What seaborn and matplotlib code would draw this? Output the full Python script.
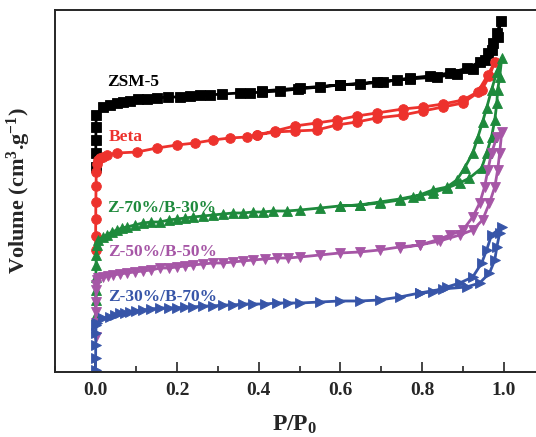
import numpy as np
import pandas as pd
import matplotlib
matplotlib.use("Agg")
import matplotlib.pyplot as plt
import seaborn as sns
from matplotlib.ticker import MultipleLocator, FormatStrFormatter

# N2 isotherms: relative pressure P/P0 and volume (arbitrary units, no y scale shown)
zsm5_ads_p = [0.0005, 0.0008, 0.001, 0.0012, 0.002, 0.018, 0.035, 0.053, 0.067, 0.084,
              0.104, 0.126, 0.151, 0.177, 0.207, 0.231, 0.256, 0.28, 0.31, 0.354,
              0.379, 0.408, 0.452, 0.496, 0.55, 0.598, 0.647, 0.704, 0.738, 0.77,
              0.819, 0.868, 0.911, 0.941, 0.961, 0.973, 0.983, 0.993]
zsm5_ads_v = [205, 219, 232, 245, 257, 265, 267, 269, 270, 271,
              273, 273, 274, 275, 275, 276, 277, 277, 278, 279,
              279, 280, 281, 283, 285, 287, 288, 290, 292, 294,
              296, 299, 304, 310, 319, 329, 339, 351]
zsm5_des_p = [0.985, 0.97, 0.953, 0.924, 0.885, 0.836, 0.77, 0.689, 0.598, 0.501, 0.408]
zsm5_des_v = [335, 322, 312, 303, 298, 295, 293, 290, 287, 284, 281]

beta_ads_p = [0.0003, 0.0005, 0.0007, 0.001, 0.0015, 0.002, 0.003, 0.006, 0.011, 0.018,
              0.028, 0.053, 0.102, 0.151, 0.2, 0.244, 0.288, 0.329, 0.371, 0.395,
              0.439, 0.488, 0.542, 0.591, 0.64, 0.689, 0.753, 0.802, 0.851, 0.9,
              0.946, 0.965, 0.978]
beta_ads_v = [122, 136, 153, 170, 186, 200, 208, 212, 214, 215,
              217, 219, 220, 224, 227, 229, 232, 234, 235, 237,
              240, 241, 242, 247, 250, 254, 257, 261, 265, 269,
              282, 296, 310]
beta_des_p = [0.961, 0.936, 0.9, 0.851, 0.802, 0.753, 0.689, 0.64, 0.591, 0.542, 0.488, 0.439, 0.395]
beta_des_v = [297, 280, 272, 268, 265, 263, 259, 256, 252, 249, 246, 241, 237]

z70_ads_p = [0.0003, 0.0005, 0.0007, 0.001, 0.0015, 0.002, 0.003, 0.006, 0.018, 0.028,
             0.04, 0.053, 0.065, 0.077, 0.096, 0.116, 0.137, 0.158, 0.179, 0.2,
             0.22, 0.239, 0.263, 0.288, 0.312, 0.337, 0.361, 0.386, 0.41, 0.435,
             0.468, 0.501, 0.55, 0.598, 0.647, 0.696, 0.745, 0.777, 0.826, 0.861,
             0.892, 0.916, 0.946, 0.958, 0.97, 0.978, 0.983, 0.985, 0.99, 0.995]
z70_ads_v = [57, 72, 82, 95, 107, 117, 127, 132, 135, 137,
             140, 142, 144, 145, 147, 149, 150, 150, 152, 153,
             154, 155, 156, 157, 158, 159, 159, 160, 160, 161,
             161, 162, 164, 166, 167, 169, 172, 175, 179, 184,
             189, 194, 204, 219, 235, 252, 269, 282, 295, 314]
z70_des_p = [0.983, 0.97, 0.958, 0.948, 0.936, 0.924, 0.904, 0.885, 0.861, 0.826,
             0.794, 0.745, 0.696, 0.647, 0.598]
z70_des_v = [300, 282, 264, 250, 234, 219, 204, 192, 185, 182,
             177, 173, 170, 167, 166]

z50_ads_p = [0.0003, 0.0005, 0.0007, 0.001, 0.0015, 0.002, 0.004, 0.006, 0.018, 0.03,
             0.043, 0.06, 0.077, 0.096, 0.116, 0.137, 0.158, 0.179, 0.2, 0.22,
             0.239, 0.263, 0.288, 0.312, 0.337, 0.361, 0.386, 0.415, 0.444, 0.472,
             0.501, 0.55, 0.598, 0.647, 0.696, 0.745, 0.794, 0.843, 0.892, 0.924,
             0.948, 0.965, 0.978, 0.985, 0.99, 0.995]
z50_ads_v = [35, 49, 60, 70, 82, 87, 92, 94, 95, 96,
             97, 98, 99, 100, 101, 102, 104, 104, 105, 106,
             107, 108, 109, 109, 110, 111, 112, 113, 114, 114,
             115, 117, 119, 120, 122, 125, 127, 131, 137, 142,
             152, 169, 185, 202, 219, 240]
z50_des_p = [0.983, 0.97, 0.961, 0.953, 0.941, 0.924, 0.9, 0.868, 0.836, 0.794, 0.745]
z50_des_v = [235, 219, 202, 185, 169, 155, 142, 137, 132, 127, 124]

z30_ads_p = [0.0003, 0.0005, 0.0007, 0.001, 0.0015, 0.004, 0.018, 0.035, 0.048, 0.06,
             0.072, 0.084, 0.1, 0.116, 0.137, 0.158, 0.179, 0.2, 0.22, 0.239,
             0.263, 0.288, 0.312, 0.337, 0.361, 0.386, 0.415, 0.444, 0.472, 0.501,
             0.55, 0.598, 0.647, 0.696, 0.745, 0.794, 0.85, 0.909, 0.941, 0.965,
             0.978, 0.983, 0.99, 0.995]
z30_ads_v = [2, 14, 27, 39, 47, 49, 54, 55, 57, 59,
             59, 60, 61, 62, 63, 64, 64, 64, 65, 65,
             66, 66, 67, 67, 68, 68, 68, 69, 69, 69,
             70, 71, 71, 72, 75, 79, 83, 85, 89, 99,
             112, 125, 139, 145]
z30_des_p = [0.97, 0.958, 0.946, 0.924, 0.892, 0.861, 0.826, 0.794]
z30_des_v = [137, 122, 109, 95, 89, 85, 80, 79]

samples = ["ZSM-5", "Beta", "Z-70%/B-30%", "Z-50%/B-50%", "Z-30%/B-70%"]
colors = ["#000000", "#ED322D", "#1E8A3C", "#A656A6", "#3755A8"]
markers = ["s", "o", "^", "v", ">"]
label_pos = [(0.028, 290), (0.033, 235), (0.028, 164), (0.031, 120), (0.031, 75)]

curves = [
    (zsm5_ads_p + zsm5_des_p, zsm5_ads_v + zsm5_des_v),
    (beta_ads_p + beta_des_p, beta_ads_v + beta_des_v),
    (z70_ads_p + z70_des_p, z70_ads_v + z70_des_v),
    (z50_ads_p + z50_des_p, z50_ads_v + z50_des_v),
    (z30_ads_p + z30_des_p, z30_ads_v + z30_des_v),
]

sns.set_style("ticks")
plt.rcParams["font.family"] = ["Liberation Serif", "DejaVu Serif"]
plt.rcParams["font.weight"] = "bold"
plt.rcParams["axes.labelweight"] = "bold"
plt.rcParams["mathtext.fontset"] = "custom"
plt.rcParams["mathtext.rm"] = "Liberation Serif:bold"
plt.rcParams["mathtext.it"] = "Liberation Serif:bold"
plt.rcParams["mathtext.bf"] = "Liberation Serif:bold"
plt.rcParams["mathtext.default"] = "rm"

fig = plt.figure(figsize=(5.36, 4.37), dpi=100)
ax = fig.add_axes([54.6 / 536, 65 / 437, 490 / 536, 362 / 437])

for (p, v), name, col, mk in zip(curves, samples, colors, markers):
    df = pd.DataFrame({"P": p, "V": v})
    sns.lineplot(data=df, x="P", y="V", sort=False, estimator=None,
                 color=col, marker=mk, markersize=7, markeredgecolor=col,
                 markeredgewidth=0.6, linewidth=2.0, ax=ax)

for name, col, (tx, ty) in zip(samples, colors, label_pos):
    ax.text(tx, ty, name, color=col, fontsize=12.5, fontweight="bold",
            ha="left", va="center")

ax.set_xlim(-0.1, 1.1)
ax.set_ylim(0, 362)
ax.xaxis.set_major_locator(MultipleLocator(0.2))
ax.xaxis.set_minor_locator(MultipleLocator(0.1))
ax.xaxis.set_major_formatter(FormatStrFormatter("%.1f"))
ax.tick_params(axis="x", which="major", direction="in", length=7, width=1.2,
               labelsize=14, pad=7)
ax.tick_params(axis="x", which="minor", direction="in", length=4, width=1.2)
ax.set_yticks([])
for s in ax.spines.values():
    s.set_linewidth(1.4)

ax.set_xlabel(r"P/P$_\mathregular{0}$", fontsize=17, fontweight="bold")
ax.set_ylabel(r"Volume (cm$^\mathregular{3}$.g$^\mathregular{-1}$)", fontsize=16, fontweight="bold")
ax.xaxis.set_label_coords(0.49, -0.115)
ax.yaxis.set_label_coords(-0.045, 0.5)

fig.savefig("out.png", dpi=100)
